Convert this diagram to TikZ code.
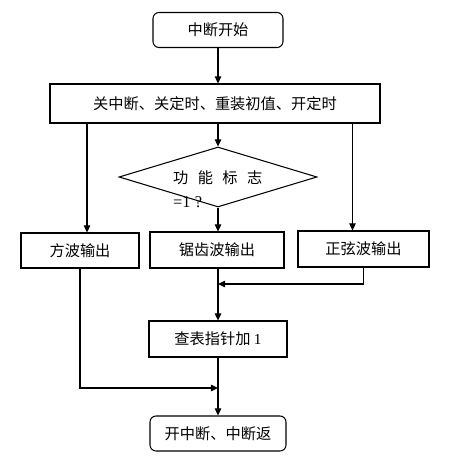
\documentclass[tikz,border=0pt]{standalone}
\usepackage{fontspec}
\setmainfont{Noto Sans CJK SC}
\newfontfamily\latinfont{Liberation Serif}
\usetikzlibrary{shapes.geometric,arrows.meta}

\tikzset{
    box/.style={draw, line width=0.9pt, minimum height=1.05cm, inner sep=0pt},
    roundbox/.style={box, rounded corners=0.18cm},
    flagbox/.style={draw, diamond, line width=0.9pt, minimum width=5.94cm, minimum height=1.8cm, inner sep=0pt},
    arr/.style={-{Triangle[length=6pt,width=5.5pt]}, line width=0.9pt},
}

\begin{document}
\begin{tikzpicture}[x=0.03cm, y=-0.03cm, font=\fontsize{13}{20.5}\selectfont]
        \useasboundingbox (0,0) rectangle (454,461);

        % start and init
        \node[roundbox, minimum width=3.9cm] (start) at (218,30) {中断开始};
        \node[box, minimum width=9.9cm, minimum height=1.17cm] (init) at (215,103.5) {关中断、关定时、重装初值、开定时};

        % flag
        \node[flagbox] (flag) at (218,177) {};
        \node[align=left, anchor=west, inner sep=0pt] (flagtext) at (173,189)
            {功\hspace{8pt}能\hspace{8pt}标\hspace{8pt}志\\{\latinfont\fontsize{14}{20.5}\selectfont =1 ?}};

        % outputs
        \node[box, minimum width=3.54cm] (square) at (80,250.5) {方波输出};
        \node[box, minimum width=4.02cm, minimum height=1.08cm] (saw) at (217,250) {锯齿波输出};
        \node[box, minimum width=3.93cm, minimum height=1.08cm] (sine) at (363.5,249) {正弦波输出};

        % table and end
        \node[box, minimum width=4.14cm, minimum height=1.08cm] (table) at (218,339) {查表指针加 {\latinfont 1}};
        \node[roundbox, minimum width=4.08cm] (end) at (218,433.5) {开中断、中断返};

        \coordinate (sqin) at ([xshift=0.21cm]square.north);
        \coordinate (sinein) at ([xshift=-0.33cm]sine.north);
        \coordinate (join1) at (218,284);
        \coordinate (join2) at (218,388);

        % arrows
        \draw[arr] (start.south) -- (start.south |- init.north);
        \draw[arr] (init.south -| flag.north) -- (flag.north);
        \draw[arr] (init.south -| sqin) -- (sqin);
        \draw[arr] (init.south -| sinein) -- (sinein);
        \draw[arr] (flag.south) -- (flag.south |- saw.north);
        \draw[arr] (sine.south) |- (join1);
        \draw[arr] (table.north |- saw.south) -- (table.north);
        \draw[arr] (square.south) |- (join2);
        \draw[arr] (table.south) -- (end.north);

    \end{tikzpicture}
\end{document}
